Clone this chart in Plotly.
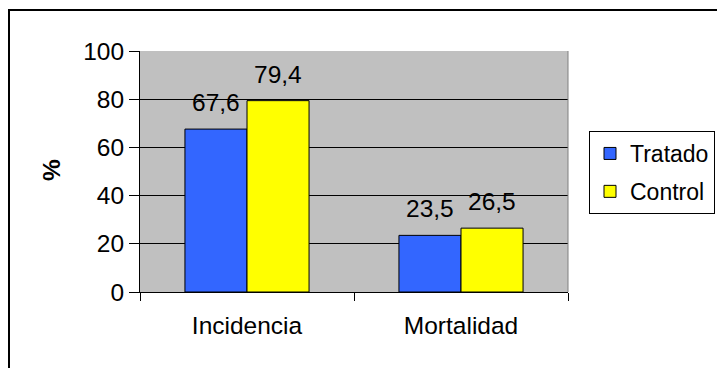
import plotly.graph_objects as go

# Chart data
categories = ["Incidencia", "Mortalidad"]
tratado = [67.6, 23.5]
control = [79.4, 26.5]
series_names = ["Tratado", "Control"]
y_ticks = [0, 20, 40, 60, 80, 100]

W, H = 717, 368
L, R, T, B = 140, 149, 51, 76
FONT = "Liberation Sans, Arial, sans-serif"
FS = 24.5

colors = ["#3366FF", "#FFFF00"]


def px_x(x):
    return (x - L) / (W - L - R)


def px_y(y):
    return (H - B - y) / (H - T - B)


fig = go.Figure()
for i, (name, vals) in enumerate(zip(series_names, [tratado, control])):
    fig.add_trace(go.Bar(
        x=categories, y=vals, name=name, legendgroup=name,
        marker=dict(color=colors[i], line=dict(color="black", width=1)),
    ))

# value labels above each bar
annotations = []
for i, vals in enumerate([tratado, control]):
    shift = -31 if i == 0 else 31
    for c, v in zip(categories, vals):
        annotations.append(dict(
            x=c, y=v, xref="x", yref="y", text=f"{v:.1f}".replace(".", ","),
            showarrow=False, yanchor="bottom", xshift=shift, yshift=11,
            font=dict(family=FONT, size=FS, color="black"),
        ))

annotations.append(dict(
    x=px_x(51), y=px_y(170), xref="paper", yref="paper", text="<b>%</b>",
    textangle=-90, showarrow=False, xanchor="center", yanchor="middle",
    font=dict(family=FONT, size=FS, color="black"),
))

shapes = [
    # outer chart frame
    dict(type="rect", xref="paper", yref="paper",
         x0=px_x(9), x1=px_x(760), y0=px_y(420), y1=px_y(10),
         line=dict(color="black", width=2), fillcolor="rgba(0,0,0,0)"),
    # plot area right edge
    dict(type="line", xref="paper", yref="paper", x0=1, x1=1, y0=0, y1=1,
         line=dict(color="#808080", width=1)),
]

fig.update_layout(
    width=W, height=H,
    margin=dict(l=L, r=R, t=T, b=B, pad=0, autoexpand=False),
    paper_bgcolor="white", plot_bgcolor="#C0C0C0",
    barmode="group", bargap=0.42, bargroupgap=0,
    font=dict(family=FONT, size=FS, color="black"),
    annotations=annotations, shapes=shapes,
    showlegend=True,
    legend=dict(
        xref="container", yref="container",
        x=589 / W, y=1 - 131 / H, xanchor="left", yanchor="top",
        bordercolor="black", borderwidth=1, bgcolor="white",
        font=dict(family=FONT, size=23, color="black"),
        traceorder="grouped", tracegroupgap=5,
    ),
    xaxis=dict(
        showline=True, linecolor="black", linewidth=1,
        ticks="outside", ticklen=8, tickcolor="black", tickson="boundaries",
        showgrid=False, ticklabelstandoff=12,
    ),
    yaxis=dict(
        range=[0, 100], tickvals=y_ticks,
        showline=True, linecolor="black", linewidth=1,
        ticks="outside", ticklen=10, tickcolor="black",
        showgrid=True, gridcolor="black", gridwidth=1,
        zeroline=False, ticklabelstandoff=0,
    ),
)

fig.write_html("out.html")
